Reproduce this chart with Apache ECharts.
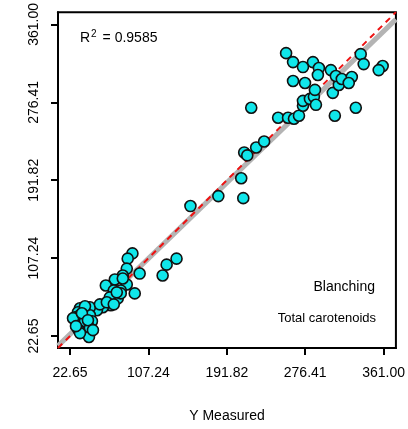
<!DOCTYPE html>
<html><head><meta charset="utf-8">
<script src="https://cdn.jsdelivr.net/npm/echarts@6/dist/echarts.min.js"></script>
<style>html,body{margin:0;padding:0;background:#fff}#c{width:408px;height:429px}</style>
</head><body><div id="c"></div>
<script>
var tickValues = [22.65, 107.24, 191.82, 276.41, 361.00];
var tickLabels = ['22.65', '107.24', '191.82', '276.41', '361.00'];
var measured = [90.0,84.9,83.9,97.8,79.6,71.0,83.9,61.3,69.9,77.4,92.5,74.2,65.6,66.7,58.1,51.7,44.1,33.4,31.2,28.0,33.4,44.1,30.2,38.8,46.3,31.2,44.1,43.1,137.6,126.9,122.6,
  38.8,54.9,62.4,69.9,25.9,35.5,42.0,47.4,33.4,29.1,79.6,77.4,73.1,
  152.6,182.7,209.6,207.4,210.6,213.9,223.5,232.1,218.2,
  247.2,257.9,264.3,269.7,274.0,274.0,281.5,285.8,288.0,286.9,306.2,312.7,263.3,276.2,255.8,263.3,274.0,284.8,291.2,290.1,304.1,309.5,315.9,326.7,323.4,336.3,339.5,360.0,355.7,308.4,331.0];
var predicted = [112.4,106.7,95.9,90.5,88.4,84.1,78.7,77.6,72.2,72.2,69.0,63.6,64.7,56.1,53.9,50.7,53.9,52.8,48.5,43.1,45.3,45.3,37.7,38.8,38.8,30.2,31.3,21.6,106.7,100.2,88.4,
  55.0,57.1,59.3,57.1,42.0,47.4,39.9,29.1,25.9,33.4,85.2,69.0,70.1,
  163.8,174.6,172.4,194.0,222.0,218.8,227.4,233.9,270.5,
  259.7,259.7,258.6,261.9,272.7,278.0,280.2,282.4,273.7,289.9,286.7,295.3,299.6,297.4,329.8,320.1,314.7,320.1,313.6,306.1,311.4,305.0,301.7,303.9,297.4,328.7,317.9,315.8,311.4,261.9,270.5];
var fitLineX = [9.7, 374.3];
var fitLineY = [12.0, 366.5];
var oneToOneX = [9.7, 374.3];
var oneToOneY = [9.7, 374.3];
var r2Text = '0.9585';
var xName = 'Y Measured';
var note1 = 'Blanching';
var note2 = 'Total carotenoids';

var pts = measured.map(function(v,i){return [v, predicted[i]];});
var fitPts = fitLineX.map(function(v,i){return [v, fitLineY[i]];});
var onePts = oneToOneX.map(function(v,i){return [v, oneToOneY[i]];});
var FONT = 'Liberation Sans';
function fmt(v){ var i = tickValues.indexOf(+v); return i>=0 ? tickLabels[i] : ''; }
var axisCommon = {
  min: 9.7, max: 374.3,
  splitLine: {show: false},
  axisLine: {show: true, onZero: false, lineStyle: {color: '#000', width: 2}},
  axisTick: {show: true, inside: false, length: 7, customValues: tickValues, lineStyle: {color: '#000', width: 2}},
};
var chart = echarts.init(document.getElementById('c'), null, {renderer: 'canvas'});
chart.setOption({
  animation: false,
  backgroundColor: '#fff',
  grid: {left: 58, right: 10, top: 10, bottom: 81, show: true, borderColor: '#000', borderWidth: 2, backgroundColor: 'transparent'},
  xAxis: Object.assign({}, axisCommon, {
    type: 'value',
    name: xName, nameLocation: 'middle', nameGap: 61,
    nameTextStyle: {fontFamily: FONT, fontSize: 14, color: '#000'},
    axisLabel: {customValues: tickValues, formatter: fmt, margin: 18, fontFamily: FONT, fontSize: 14, color: '#000'}
  }),
  yAxis: Object.assign({}, axisCommon, {
    type: 'value',
    axisLabel: {customValues: tickValues, formatter: fmt, rotate: 90, margin: 17, fontFamily: FONT, fontSize: 14, color: '#000'}
  }),
  series: [
    {type: 'line', data: fitPts, symbol: 'none', lineStyle: {color: '#b4b4b4', width: 5}, z: 2, silent: true},
    {type: 'line', data: onePts, symbol: 'none', lineStyle: {color: '#ee1111', width: 2, type: [6, 5]}, z: 3, silent: true},
    {type: 'scatter', data: pts, symbol: 'circle', symbolSize: 11,
      itemStyle: {color: '#10e6ea', borderColor: '#111', borderWidth: 1.6, opacity: 1}, z: 5}
  ],
  graphic: [
    {type: 'text', left: 80, top: 29, style: {
      text: '{a|R}{s|2}{a| = ' + r2Text + '}',
      rich: {a: {fontFamily: FONT, fontSize: 14, fill: '#000', verticalAlign: 'bottom'},
             s: {fontFamily: FONT, fontSize: 10, fill: '#000', verticalAlign: 'top', padding: [0,2,6,1]}}
    }},
    {type: 'text', right: 33, top: 280, style: {text: note1, fontFamily: FONT, fontSize: 14, fill: '#000'}},
    {type: 'text', right: 32, top: 312, style: {text: note2, fontFamily: FONT, fontSize: 13, fill: '#000'}}
  ]
});
</script></body></html>
